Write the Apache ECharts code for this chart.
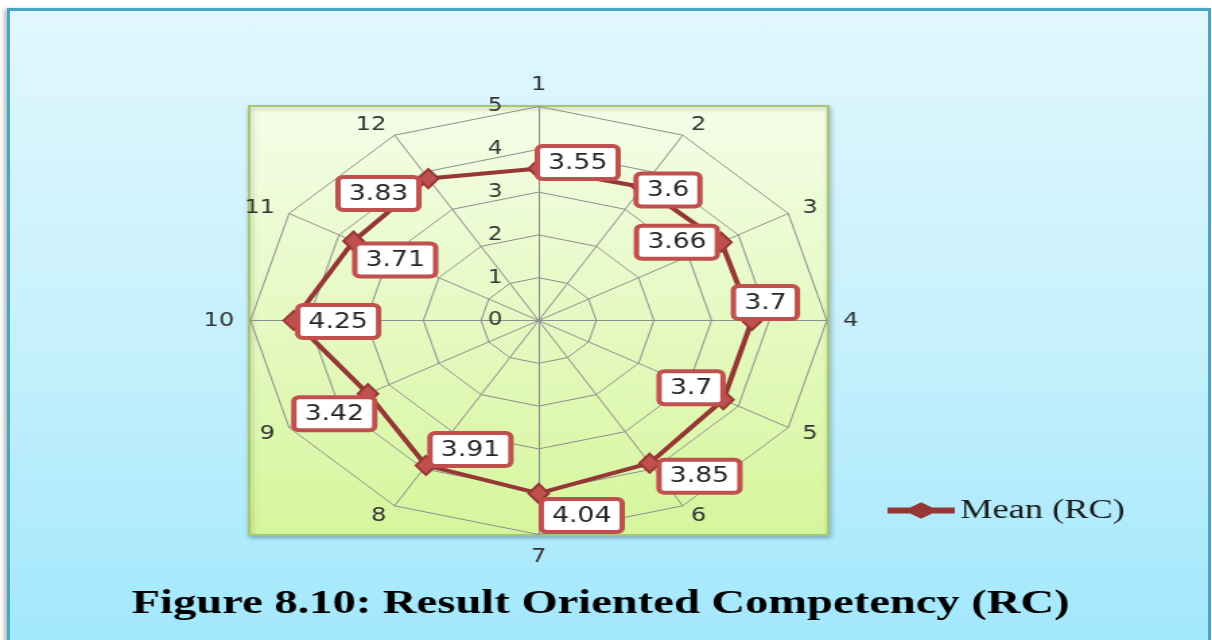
<!DOCTYPE html>
<html>
<head>
<meta charset="utf-8">
<title>Figure 8.10: Result Oriented Competency (RC)</title>
<script src="https://cdn.jsdelivr.net/npm/echarts@6/dist/echarts.min.js"></script>
<style>
  html, body { margin: 0; padding: 0; background: #ffffff; }
  #stage { position: relative; width: 1212px; height: 640px; overflow: hidden; }
  #frame {
    position: absolute; left: 7px; top: 8px; width: 1198px; height: 660px;
    border: 3px solid #47a6c4;
    background: linear-gradient(to bottom, #e1f7fd 0%, #c6f0fc 50%, #9fe7fd 100%);
    box-shadow: -3px 1px 4px rgba(0, 0, 0, 0.25);
  }
  /* the chart is laid out at 900px and widened to the full 1212px frame */
  #chart {
    position: absolute; left: 0; top: 0; width: 900px; height: 640px;
    transform: scaleX(1.34667); transform-origin: 0 0;
  }
</style>
</head>
<body>
<div id="stage">
  <div id="frame"></div>
  <div id="chart"></div>
</div>
<script>
// Spokes of the radar, in clockwise order from the top
const categories = ['1', '2', '3', '4', '5', '6', '7', '8', '9', '10', '11', '12'];
// Mean score on each item
const meanRC = [3.55, 3.6, 3.66, 3.7, 3.7, 3.85, 4.04, 3.91, 3.42, 4.25, 3.71, 3.83];
const seriesName = 'Mean (RC)';
const titleText = 'Figure 8.10: Result Oriented Competency (RC)';
const scaleMin = 0;
const scaleMax = 5;

// Where each value box sits relative to its point (px)
const labelOffsets = [
  [29, -6], [19, 3], [-33, 0], [10, -18], [-24, -12], [37, 13],
  [32, 22], [33, -16], [-25, 20], [33, 1], [31, 19], [-37, 15]
];

// ECharts lays radar spokes out counter-clockwise, so feed them in reverse
// (keeping the first at the top) to run 1..12 clockwise.
const order = [0].concat(categories.slice(1).map((_, i) => categories.length - 1 - i));
const indicators = order.map(i => ({ name: categories[i], min: scaleMin, max: scaleMax }));
const values = order.map(i => meanRC[i]);

const sansFont = "'DejaVu Sans Condensed', 'Liberation Sans', sans-serif";
const serifFont = "'Liberation Serif', 'DejaVu Serif', serif";
const lineColor = '#953735';
const boxColor = '#c0504d';

// One invisible polygon per spoke carries that spoke's value box
const labelCarriers = order.map((catIdx, dim) => ({
  name: 'label-' + categories[catIdx],
  value: values,
  symbol: 'rect',
  symbolSize: 0,
  itemStyle: { color: 'rgba(0,0,0,0)', borderWidth: 0 },
  lineStyle: { width: 0, opacity: 0 },
  label: {
    show: true,
    position: 'inside',
    offset: labelOffsets[catIdx],
    formatter: p => (p.dimensionIndex === dim ? '{v|' + p.value + '}' : ''),
    rich: {
      v: {
        fontFamily: sansFont, fontSize: 22, color: '#262626', lineHeight: 24,
        backgroundColor: '#ffffff', borderColor: boxColor, borderWidth: 4, borderRadius: 2,
        padding: [4, 6, 3, 6]
      }
    }
  }
}));

const chart = echarts.init(document.getElementById('chart'), null, { renderer: 'canvas' });

chart.setOption({
  animation: false,
  backgroundColor: 'transparent',
  title: {
    text: titleText,
    left: 441, top: 582, textAlign: 'center',
    textStyle: { fontFamily: serifFont, fontWeight: 'bold', fontSize: 34.6, color: '#000000' }
  },
  legend: {
    left: 654, top: 492,
    itemWidth: 48, itemHeight: 14, itemGap: 10,
    selectedMode: false,
    data: [{
      name: seriesName,
      icon: 'path://M0,5 L16,5 L24,0 L32,5 L48,5 L48,9 L32,9 L24,14 L16,9 L0,9 Z',
      itemStyle: { color: lineColor }
    }],
    textStyle: { fontFamily: serifFont, fontSize: 27, color: '#1a1a1a', padding: [0, 0, 0, 0] }
  },
  graphic: [{
    type: 'rect', z: -10, silent: true,
    shape: { x: 185, y: 106, width: 430, height: 429 },
    style: {
      fill: new echarts.graphic.LinearGradient(0, 0, 0, 1, [
        { offset: 0, color: '#f5fde8' }, { offset: 1, color: '#d6f69c' }
      ]),
      stroke: '#a3c872', lineWidth: 2,
      shadowColor: 'rgba(0,0,0,0.25)', shadowBlur: 4, shadowOffsetX: 1, shadowOffsetY: 2
    }
  }],
  radar: {
    center: [400, 320.5],
    radius: 214,
    startAngle: 90,
    splitNumber: 5,
    shape: 'polygon',
    indicator: indicators,
    nameGap: 12,
    axisName: { color: '#333333', fontSize: 20, fontFamily: sansFont },
    axisLine: { lineStyle: { color: '#8e8e8e', width: 1 } },
    splitLine: { lineStyle: { color: '#8e8e8e', width: 1 } },
    splitArea: { show: false },
    axisLabel: { show: false }
  },
  // scale numbers 0..5 along the top spoke
  polar: { center: [400, 320.5], radius: 214 },
  angleAxis: { show: false, min: 0, max: 360, startAngle: 90 },
  radiusAxis: {
    min: scaleMin, max: scaleMax, interval: 1,
    axisLine: { show: false }, axisTick: { show: false }, splitLine: { show: false },
    axisLabel: { margin: 27, fontSize: 19, color: '#333333', fontFamily: sansFont }
  },
  series: [{
    type: 'radar',
    silent: true,
    data: [{
      name: seriesName,
      value: values,
      symbol: 'diamond',
      symbolSize: [15, 19],
      itemStyle: { color: boxColor, borderColor: lineColor, borderWidth: 2 },
      lineStyle: { color: lineColor, width: 4 }
    }].concat(labelCarriers)
  }]
});
</script>
</body>
</html>
